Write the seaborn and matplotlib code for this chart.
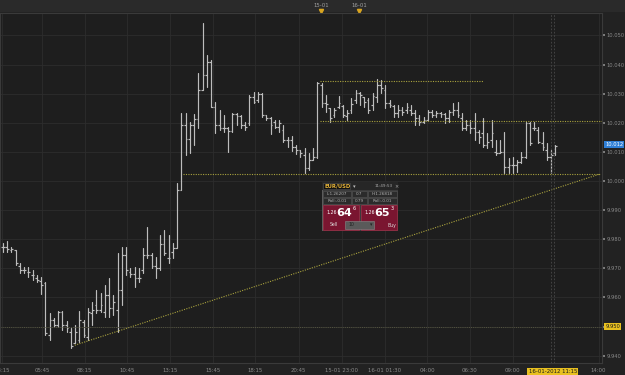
import numpy as np
import pandas as pd
import matplotlib
matplotlib.use("Agg")
import matplotlib.pyplot as plt
import matplotlib.transforms as mtrans
from matplotlib.patches import Rectangle
import seaborn as sns

### 15 minute EUR/USD bars (price scale as shown on the chart)
opens = [9.9773, 9.9773, 9.9763, 9.9763, 9.9708, 9.9694, 9.9687, 9.9677, 9.9667, 9.9657,
         9.9650, 9.9471, 9.9522, 9.9505, 9.9550, 9.9505, 9.9481, 9.9444, 9.9454, 9.9516,
         9.9464, 9.9547, 9.9574, 9.9557, 9.9550, 9.9608, 9.9564, 9.9557, 9.9626, 9.9746,
         9.9687, 9.9681, 9.9667, 9.9694, 9.9746, 9.9746, 9.9708, 9.9701, 9.9784, 9.9736,
         9.9756, 9.9770, 9.9969, 10.0192, 10.0144, 10.0192, 10.0213, 10.0313, 10.0364, 10.0409,
         10.0254, 10.0192, 10.0182, 10.0182, 10.0172, 10.0230, 10.0223, 10.0192, 10.0199, 10.0289,
         10.0278, 10.0299, 10.0227, 10.0217, 10.0203, 10.0186, 10.0175, 10.0141, 10.0141, 10.0117,
         10.0107, 10.0089, 10.0045, 10.0072, 10.0083, 10.0330, 10.0268, 10.0251, 10.0227, 10.0254,
         10.0258, 10.0223, 10.0244, 10.0278, 10.0302, 10.0289, 10.0278, 10.0261, 10.0289, 10.0330,
         10.0313, 10.0268, 10.0258, 10.0234, 10.0244, 10.0244, 10.0244, 10.0234, 10.0217, 10.0203,
         10.0210, 10.0237, 10.0227, 10.0234, 10.0230, 10.0217, 10.0237, 10.0244, 10.0217, 10.0182,
         10.0192, 10.0182, 10.0168, 10.0165, 10.0124, 10.0141, 10.0100, 10.0096, 10.0100, 10.0048,
         10.0055, 10.0055, 10.0065, 10.0083, 10.0199, 10.0182, 10.0175, 10.0131, 10.0107, 10.0083,
         10.0096]
highs = [9.9787, 9.9794, 9.9773, 9.9763, 9.9718, 9.9704, 9.9704, 9.9694, 9.9677, 9.9670,
         9.9653, 9.9547, 9.9529, 9.9553, 9.9553, 9.9519, 9.9495, 9.9505, 9.9553, 9.9522,
         9.9564, 9.9584, 9.9626, 9.9615, 9.9643, 9.9667, 9.9608, 9.9753, 9.9773, 9.9773,
         9.9701, 9.9704, 9.9701, 9.9770, 9.9842, 9.9753, 9.9739, 9.9815, 9.9832, 9.9815,
         9.9787, 9.9993, 10.0234, 10.0234, 10.0203, 10.0230, 10.0371, 10.0543, 10.0433, 10.0416,
         10.0272, 10.0244, 10.0227, 10.0186, 10.0234, 10.0234, 10.0227, 10.0203, 10.0296, 10.0306,
         10.0306, 10.0302, 10.0227, 10.0220, 10.0210, 10.0210, 10.0192, 10.0151, 10.0155, 10.0124,
         10.0107, 10.0113, 10.0096, 10.0113, 10.0340, 10.0337, 10.0296, 10.0251, 10.0251, 10.0292,
         10.0261, 10.0244, 10.0285, 10.0313, 10.0306, 10.0289, 10.0285, 10.0302, 10.0351, 10.0347,
         10.0330, 10.0278, 10.0261, 10.0261, 10.0254, 10.0268, 10.0261, 10.0244, 10.0227, 10.0220,
         10.0244, 10.0244, 10.0241, 10.0237, 10.0234, 10.0244, 10.0268, 10.0272, 10.0234, 10.0210,
         10.0210, 10.0234, 10.0175, 10.0217, 10.0165, 10.0210, 10.0141, 10.0141, 10.0168, 10.0079,
         10.0083, 10.0072, 10.0100, 10.0203, 10.0203, 10.0203, 10.0186, 10.0168, 10.0131, 10.0107,
         10.0124]
lows = [9.9756, 9.9756, 9.9756, 9.9711, 9.9684, 9.9684, 9.9670, 9.9660, 9.9653, 9.9612,
        9.9471, 9.9454, 9.9498, 9.9498, 9.9488, 9.9481, 9.9426, 9.9444, 9.9447, 9.9464,
        9.9454, 9.9505, 9.9547, 9.9550, 9.9533, 9.9533, 9.9540, 9.9481, 9.9574, 9.9677,
        9.9670, 9.9636, 9.9653, 9.9684, 9.9736, 9.9701, 9.9667, 9.9694, 9.9746, 9.9718,
        9.9736, 9.9770, 9.9969, 10.0089, 10.0096, 10.0124, 10.0182, 10.0313, 10.0323, 10.0254,
        10.0165, 10.0175, 10.0168, 10.0100, 10.0168, 10.0192, 10.0182, 10.0175, 10.0192, 10.0268,
        10.0272, 10.0220, 10.0210, 10.0162, 10.0182, 10.0168, 10.0134, 10.0117, 10.0103, 10.0093,
        10.0083, 10.0028, 10.0038, 10.0072, 10.0079, 10.0254, 10.0237, 10.0203, 10.0220, 10.0251,
        10.0220, 10.0210, 10.0234, 10.0268, 10.0261, 10.0254, 10.0234, 10.0244, 10.0272, 10.0302,
        10.0251, 10.0254, 10.0220, 10.0220, 10.0227, 10.0234, 10.0227, 10.0192, 10.0192, 10.0199,
        10.0210, 10.0220, 10.0220, 10.0220, 10.0199, 10.0203, 10.0227, 10.0220, 10.0175, 10.0175,
        10.0165, 10.0141, 10.0131, 10.0117, 10.0113, 10.0117, 10.0089, 10.0096, 10.0028, 10.0028,
        10.0028, 10.0031, 10.0062, 10.0079, 10.0124, 10.0175, 10.0131, 10.0107, 10.0072, 10.0028,
        10.0089]
closes = [9.9773, 9.9766, 9.9766, 9.9718, 9.9694, 9.9694, 9.9687, 9.9677, 9.9660, 9.9643,
          9.9478, 9.9522, 9.9505, 9.9550, 9.9505, 9.9495, 9.9433, 9.9481, 9.9522, 9.9471,
          9.9550, 9.9557, 9.9557, 9.9574, 9.9608, 9.9564, 9.9584, 9.9626, 9.9746, 9.9694,
          9.9681, 9.9667, 9.9667, 9.9746, 9.9746, 9.9708, 9.9701, 9.9784, 9.9753, 9.9736,
          9.9770, 9.9969, 10.0192, 10.0144, 10.0192, 10.0213, 10.0313, 10.0364, 10.0409, 10.0254,
          10.0192, 10.0182, 10.0182, 10.0172, 10.0230, 10.0223, 10.0192, 10.0186, 10.0289, 10.0272,
          10.0299, 10.0227, 10.0217, 10.0192, 10.0186, 10.0199, 10.0141, 10.0141, 10.0117, 10.0107,
          10.0096, 10.0045, 10.0072, 10.0083, 10.0337, 10.0268, 10.0265, 10.0217, 10.0244, 10.0268,
          10.0227, 10.0234, 10.0265, 10.0302, 10.0296, 10.0272, 10.0244, 10.0292, 10.0330, 10.0320,
          10.0268, 10.0261, 10.0234, 10.0244, 10.0237, 10.0254, 10.0234, 10.0217, 10.0203, 10.0210,
          10.0237, 10.0227, 10.0234, 10.0230, 10.0217, 10.0237, 10.0244, 10.0227, 10.0182, 10.0192,
          10.0182, 10.0168, 10.0151, 10.0124, 10.0134, 10.0165, 10.0096, 10.0100, 10.0048, 10.0055,
          10.0055, 10.0065, 10.0083, 10.0199, 10.0131, 10.0182, 10.0134, 10.0117, 10.0083, 10.0089,
          10.0120]

# time axis labels (position in bars)
tick_pos = [-0.2, 9.2, 19.2, 29.2, 39.3, 49.4, 59.3, 69.6, 79.8, 89.9, 99.8, 109.9, 120.0, 140.2]
tick_labels = ["03:15", "05:45", "08:15", "10:45", "13:15", "15:45", "18:15", "20:45",
               "15-01 23:00", "16-01 01:30", "04:00", "06:30", "09:00", "14:00"]
price_ticks = [9.94, 9.95, 9.96, 9.97, 9.98, 9.99, 10.00, 10.01, 10.02, 10.03, 10.04, 10.05]

# drawn study lines
trend_x = [16.9, 140.5]
trend_y = [9.9436, 10.0024]
support_x = [42.4, 140.5]
support_y = [10.0024, 10.0024]
top_x = [74.6, 112.9]
top_y = [10.0344, 10.0344]
mid_x = [74.6, 141.4]
mid_y = [10.0206, 10.0206]
level_price = 9.950
last_price = 10.012
cursor_pos = 129.4
cursor_label = "16-01-2012 11:15"
day_marks = [74.8, 83.8]
day_labels = ["15-01", "16-01"]

###############################################################################
bg = '#1e1e1e'
grid_col = '#2d2d2d'
txt_col = '#8a8a8a'
bar_col = '#bdbdbd'
study_col = '#a9a23e'

sns.set_theme(style="dark", rc={'axes.facecolor': bg, 'figure.facecolor': '#222222',
                                'axes.edgecolor': '#3c3c3c', 'grid.color': grid_col})
plt.rcParams['font.family'] = ['DejaVu Sans']

fig = plt.figure(figsize=(6.25, 3.75), dpi=100)
# top strip with the day markers
fig.patches.append(Rectangle((0, 1 - 12 / 375), 1, 12 / 375, transform=fig.transFigure,
                             fc='#2a2a2a', ec='none', zorder=-5))
ax = fig.add_axes([0, 12 / 375, 602 / 625, 350 / 375])

n = len(opens)
idx = np.arange(n)
bars = pd.DataFrame({'bar': np.repeat(idx, 2),
                     'price': np.column_stack([lows, highs]).ravel()})
bars['t'] = bars['bar'].astype(float)
sns.lineplot(data=bars, x='t', y='price', units='bar', estimator=None,
             color=bar_col, lw=0.85, ax=ax, legend=False)
ax.hlines(opens, idx - 0.42, idx, color=bar_col, lw=0.85)
ax.hlines(closes, idx, idx + 0.42, color=bar_col, lw=0.85)

# study lines
dots = (0, (1, 1.2))
ax.plot(trend_x, trend_y, color=study_col, lw=0.8, ls=dots)
ax.plot(support_x, support_y, color=study_col, lw=0.8, ls=dots)
ax.plot(top_x, top_y, color=study_col, lw=0.8, ls=dots)
ax.plot(mid_x, mid_y, color=study_col, lw=0.8, ls=dots)
ax.axhline(level_price, color='#55553f', lw=0.7, ls=dots)
ax.axvline(cursor_pos - 0.5, color='#4a4a4a', lw=0.6, ls=(0, (2, 2)))
ax.axvline(cursor_pos + 0.4, color='#4a4a4a', lw=0.6, ls=(0, (2, 2)))

ax.set_xlim(-0.7, 141.0)
ax.set_ylim(9.9375, 10.0577)
ax.set_xticks(tick_pos)
ax.set_xticklabels(tick_labels)
ax.set_yticks(price_ticks)
# the 9.950 level is covered by its own highlighted label
ax.set_yticklabels(["" if abs(p - level_price) < 1e-9 else "%.3f" % p for p in price_ticks])
ax.yaxis.tick_right()
ax.tick_params(axis='both', labelsize=3.7, colors=txt_col, length=2, pad=1.2)
ax.tick_params(axis='x', pad=1.5, labelsize=3.9)
ax.grid(True, color=grid_col, lw=0.6)
ax.set_xlabel('')
ax.set_ylabel('')
for s in ax.spines.values():
    s.set_color('#3a3a3a')
    s.set_linewidth(0.8)

# highlighted labels on the scales
tr = mtrans.blended_transform_factory(ax.transAxes, ax.transData)
ax.text(1.0055, level_price, "%.3f" % level_price, transform=tr, fontsize=3.7, color='#1a1a1a',
        va='center', ha='left', bbox=dict(boxstyle='square,pad=0.25', fc='#e8c020', ec='none'))
ax.text(1.0055, last_price + 0.0004, "%.3f" % last_price, transform=tr, fontsize=3.7, color='white',
        va='center', ha='left', bbox=dict(boxstyle='square,pad=0.2', fc='#2f7fd6', ec='none'))
trx = mtrans.blended_transform_factory(ax.transData, ax.transAxes)
ax.text(cursor_pos, -0.017, cursor_label, transform=trx, fontsize=3.9, color='#1a1a1a',
        va='top', ha='center', bbox=dict(boxstyle='square,pad=0.25', fc='#e8c020', ec='none'))

for pos, lab in zip(day_marks, day_labels):
    ax.text(pos, 1.022, lab, transform=trx, fontsize=3.9, color='#a0a0a0', ha='center',
            va='center', clip_on=False, zorder=10)
    ax.plot([pos], [1.006], transform=trx, marker='v', ms=3, color='#d9a520', clip_on=False)

# trading widget
w = fig.add_axes([322 / 625, (375 - 231) / 375, 76 / 625, 49 / 375])
w.set_xlim(0, 76)
w.set_ylim(49, 0)
w.axis('off')
w.add_patch(Rectangle((0, 0), 76, 49, fc='#3b3b3b', ec='#666666', lw=0.6))
w.add_patch(Rectangle((0, 0), 76, 8, fc='#262626', ec='none'))
w.add_patch(Rectangle((1, 1), 27, 6, fc='#111111', ec='#555555', lw=0.4))
w.text(2.5, 4.2, "EUR/USD", color='#e6b43a', fontsize=3.8, fontweight='bold', va='center')
w.text(31, 4.2, "\u25be", color='#bbbbbb', fontsize=3.8, va='center')
w.text(53, 4.2, "11:49:53", color='#aaaaaa', fontsize=3.0, va='center')
w.text(72.5, 4.2, "\u00d7", color='#aaaaaa', fontsize=3.6, va='center')
rows = [("L:1.26207", "0.7", "H:1.26818"), ("Roll:-0.01", "0.79", "Roll:-0.01")]
for r, vals in enumerate(rows):
    y0 = 9 + r * 7
    for x0, wd, v in zip([1, 30, 46], [28, 15, 29], vals):
        w.add_patch(Rectangle((x0, y0), wd, 6, fc='#2b2b2b', ec='#555555', lw=0.4))
        w.text(x0 + wd / 2, y0 + 3.2, v, color='#b0b0b0', fontsize=3.0, ha='center', va='center')
for x0, big, small in [(1, "64", "6"), (39, "65", "3")]:
    w.add_patch(Rectangle((x0, 23), 36, 25, fc='#7a1530', ec='#a03048', lw=0.5))
    w.text(x0 + 3, 31, "1.26", color='white', fontsize=3.3, va='center')
    w.text(x0 + 13, 31, big, color='white', fontsize=8, fontweight='bold', va='center')
    w.text(x0 + 30, 27, small, color='white', fontsize=3.5, va='center')
w.text(8, 43, "Sell", color='#dddddd', fontsize=3.3, va='center')
w.text(66, 43, "Buy", color='#dddddd', fontsize=3.3, va='center')
w.add_patch(Rectangle((23, 39), 29, 8, fc='#5a5a5a', ec='#888888', lw=0.4))
w.text(26, 43, "10", color='#222222', fontsize=3.3, va='center')
w.text(48, 43, "\u25be", color='#222222', fontsize=3.5, va='center')

plt.savefig("out.png", dpi=100, facecolor=fig.get_facecolor())
